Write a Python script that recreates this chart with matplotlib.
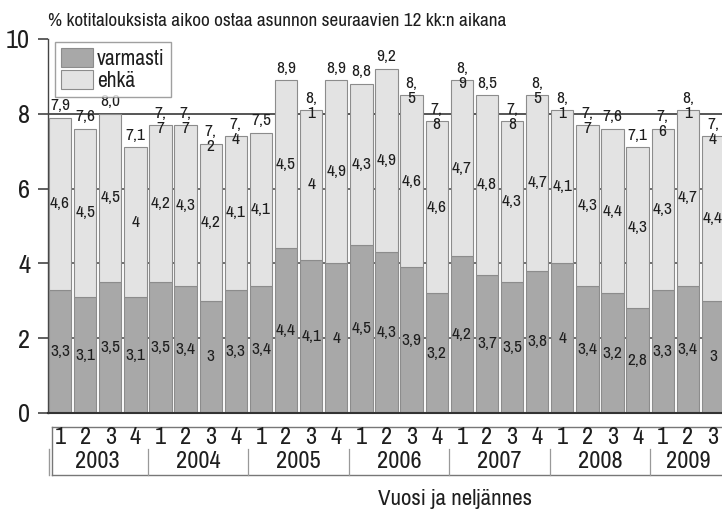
import matplotlib
matplotlib.use("Agg")
import matplotlib.pyplot as plt
from matplotlib import font_manager
from matplotlib.transforms import blended_transform_factory
from matplotlib.patches import Patch
from matplotlib.lines import Line2D

# Share of households planning to buy a home within 12 months, by quarter
years = ["2003", "2004", "2005", "2006", "2007", "2008", "2009"]
quarters = ["1", "2", "3", "4"] * 6 + ["1", "2", "3"]
varmasti = [3.3, 3.1, 3.5, 3.1, 3.5, 3.4, 3.0, 3.3, 3.4, 4.4, 4.1, 4.0,
            4.5, 4.3, 3.9, 3.2, 4.2, 3.7, 3.5, 3.8, 4.0, 3.4, 3.2, 2.8,
            3.3, 3.4, 3.0]
ehka = [4.6, 4.5, 4.5, 4.0, 4.2, 4.3, 4.2, 4.1, 4.1, 4.5, 4.0, 4.9,
        4.3, 4.9, 4.6, 4.6, 4.7, 4.8, 4.3, 4.7, 4.1, 4.3, 4.4, 4.3,
        4.3, 4.7, 4.4]
totals = [7.9, 7.6, 8.0, 7.1, 7.7, 7.7, 7.2, 7.4, 7.5, 8.9, 8.1, 8.9,
          8.8, 9.2, 8.5, 7.8, 8.9, 8.5, 7.8, 8.5, 8.1, 7.7, 7.6, 7.1,
          7.6, 8.1, 7.4]
# total labels that break onto two lines
wrapped = {4, 5, 6, 7, 10, 14, 15, 16, 18, 19, 20, 21, 24, 25, 26}

# prefer a narrow face if one is installed
stretch = "normal"
family = "Roboto"
for f in font_manager.fontManager.ttflist:
    if "Narrow" in f.name or "Condensed" in f.name:
        family = f.name
        break
else:
    for f in font_manager.fontManager.ttflist:
        if f.name == "DejaVu Sans" and f.stretch in ("condensed", 600, "semi-condensed"):
            family, stretch = "DejaVu Sans", "condensed"
            break
plt.rcParams["font.family"] = [family, "DejaVu Sans"]
plt.rcParams["font.stretch"] = stretch

W, H = 722, 513
fig = plt.figure(figsize=(W / 100, H / 100), dpi=100)
ax = fig.add_axes([47.5 / W, 1 - 413 / H, 678 / W, 374 / H])

DARK = "#a8a8a8"
LIGHT = "#e3e3e3"
EDGE = "#8c8c8c"
TXT = "#1e1e1e"

x = list(range(len(varmasti)))
ax.bar(x, varmasti, width=0.89, color=DARK, edgecolor=EDGE, linewidth=0.8, zorder=3)
ax.bar(x, ehka, bottom=varmasti, width=0.89, color=LIGHT, edgecolor=EDGE,
       linewidth=0.8, zorder=3)


def fi(v, keep_zero=False):
    s = f"{v:.1f}"
    if not keep_zero and s.endswith(".0"):
        s = s[:-2]
    return s.replace(".", ",")


VS = 12.5
for i in x:
    ax.text(i, varmasti[i] / 2, fi(varmasti[i]), ha="center", va="center",
            fontsize=VS, color=TXT, zorder=4)
    ax.text(i, varmasti[i] + ehka[i] / 2, fi(ehka[i]), ha="center", va="center",
            fontsize=VS, color=TXT, zorder=4)
    lab = fi(totals[i], keep_zero=True)
    if i in wrapped:
        lab = lab.replace(",", ",\n")
    ax.annotate(lab, (i, totals[i]), xytext=(0, 14), textcoords="offset points",
                ha="center", va="top", fontsize=VS, color=TXT,
                linespacing=1.0, zorder=4)

ax.set_xlim(-0.5, len(x) - 0.5)
ax.set_ylim(0, 10)
ax.set_yticks([0, 2, 4, 6, 8, 10])
ax.set_yticklabels(["0", "2", "4", "6", "8", "10"], fontsize=19, color=TXT)
ax.tick_params(axis="y", length=7.5, width=1.2, color="#444444", pad=5)
ax.set_xticks([])
for g in [2, 4, 6, 8]:
    ax.axhline(g, color="#555555", lw=1.4 if g == 8 else 1.2, zorder=1)
for s in ["top", "right"]:
    ax.spines[s].set_visible(False)
ax.spines["left"].set_color("#444444")
ax.spines["left"].set_linewidth(1.0)
ax.spines["bottom"].set_color("#333333")
ax.spines["bottom"].set_linewidth(1.5)
ax.spines["bottom"].set_zorder(5)

# title
fig.text(48 / W, 1 - 21 / H, "% kotitalouksista aikoo ostaa asunnon seuraavien 12 kk:n aikana",
         ha="left", va="center", fontsize=13.8, color=TXT)

# legend
handles = [Patch(facecolor=DARK, edgecolor=EDGE, lw=0.8, label="varmasti"),
           Patch(facecolor=LIGHT, edgecolor=EDGE, lw=0.8, label="ehkä")]
leg = fig.legend(handles=handles, loc="upper left",
                 bbox_to_anchor=(55 / W, 1 - 42 / H), frameon=True, fancybox=False,
                 fontsize=15.5, handlelength=1.45, handleheight=0.95, handletextpad=0.2,
                 labelspacing=0.05, borderpad=0.3, borderaxespad=0)
leg.get_frame().set_edgecolor("#888888")
leg.get_frame().set_linewidth(1.0)
for t in leg.get_texts():
    t.set_color(TXT)

# category table under the bars
tr = blended_transform_factory(ax.transData, fig.transFigure)
fy = lambda py: 1 - py / H
lc = "#777777"
x_left = -0.5 + 4.5 / 25.1
x_right = len(x) + 1
fig.add_artist(Line2D([x_left, x_right], [fy(427), fy(427)], transform=tr, color=lc, lw=1.0))
fig.add_artist(Line2D([x_left, x_right], [fy(475), fy(475)], transform=tr, color=lc, lw=1.0))
fig.add_artist(Line2D([x_left, x_left], [fy(427), fy(475)], transform=tr, color=lc, lw=1.0))
x_outer = -0.5 + 1.5 / 25.1
fig.add_artist(Line2D([x_outer, x_outer], [fy(449), fy(475)], transform=tr, color="#999999", lw=1.0))
for k in range(1, len(years)):
    xs = 4 * k - 0.5
    fig.add_artist(Line2D([xs, xs], [fy(449), fy(475)], transform=tr, color="#999999", lw=0.9))

for i, q in enumerate(quarters):
    fig.text(i, fy(438), q, transform=tr, ha="center", va="center", fontsize=17.5, color=TXT)
for k, yr in enumerate(years):
    n = min(4, len(quarters) - 4 * k)
    fig.text(4 * k + (n - 1) / 2, fy(462), yr, transform=tr, ha="center", va="center",
             fontsize=17.5, color=TXT)

fig.text(455 / W, fy(499), "Vuosi ja neljännes", ha="center", va="center",
         fontsize=16.5, color=TXT)

fig.savefig("out.png", dpi=100)
